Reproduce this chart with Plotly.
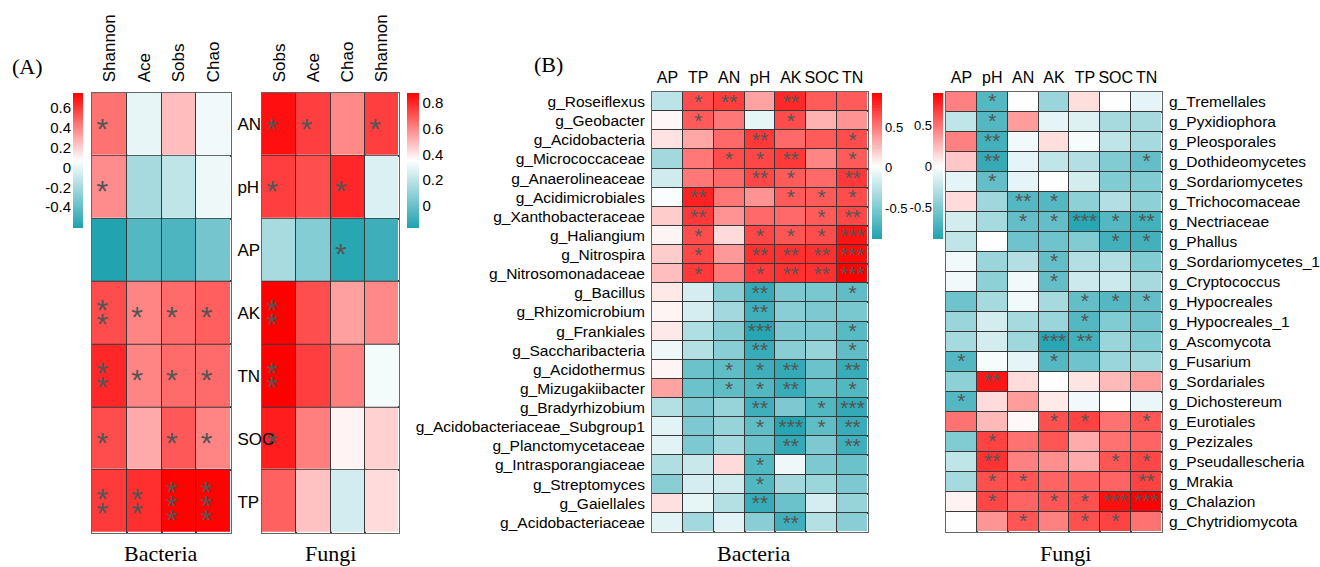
import plotly.graph_objects as go

W, H = 1320, 567

# ---------------- Panel A data ----------------
a_rows = ["AN", "pH", "AP", "AK", "TN", "SOC", "TP"]

a_bact_cols = ["Shannon", "Ace", "Sobs", "Chao"]
a_bact_vals = [
    [0.45, 0.00, 0.25, 0.03],
    [0.38, -0.20, -0.12, 0.02],
    [-0.60, -0.45, -0.47, -0.35],
    [0.55, 0.40, 0.47, 0.50],
    [0.65, 0.40, 0.47, 0.47],
    [0.55, 0.30, 0.52, 0.40],
    [0.60, 0.63, 0.75, 0.75],
]
a_bact_sig = [
    [1, 0, 0, 0],
    [1, 0, 0, 0],
    [0, 0, 0, 0],
    [2, 1, 1, 1],
    [2, 1, 1, 1],
    [1, 0, 1, 1],
    [2, 2, 3, 3],
]

a_fungi_cols = ["Sobs", "Ace", "Chao", "Shannon"]
a_fungi_vals = [
    [0.85, 0.75, 0.60, 0.75],
    [0.75, 0.72, 0.80, 0.27],
    [0.15, 0.07, -0.15, -0.10],
    [0.88, 0.72, 0.55, 0.60],
    [0.88, 0.75, 0.62, 0.33],
    [0.82, 0.62, 0.38, 0.45],
    [0.68, 0.48, 0.25, 0.43],
]
a_fungi_sig = [
    [1, 1, 0, 1],
    [1, 0, 1, 0],
    [0, 0, 1, 0],
    [2, 0, 0, 0],
    [2, 0, 0, 0],
    [1, 0, 0, 0],
    [0, 0, 0, 0],
]

# ---------------- Panel B data ----------------
b_bact_cols = ["AP", "TP", "AN", "pH", "AK", "SOC", "TN"]
b_bact_rows = [
    "g_Roseiflexus", "g_Geobacter", "g_Acidobacteria", "g_Micrococcaceae",
    "g_Anaerolineaceae", "g_Acidimicrobiales", "g_Xanthobacteraceae",
    "g_Haliangium", "g_Nitrospira", "g_Nitrosomonadaceae", "g_Bacillus",
    "g_Rhizomicrobium", "g_Frankiales", "g_Saccharibacteria", "g_Acidothermus",
    "g_Mizugakiibacter", "g_Bradyrhizobium", "g_Acidobacteriaceae_Subgroup1",
    "g_Planctomycetaceae", "g_Intrasporangiaceae", "g_Streptomyces",
    "g_Gaiellales", "g_Acidobacteriaceae",
]
b_bact_vals = [
    [-0.25, 0.65, 0.70, 0.35, 0.78, 0.60, 0.60],
    [0.05, 0.60, 0.50, -0.08, 0.65, 0.30, 0.40],
    [0.12, 0.33, 0.55, 0.72, 0.55, 0.60, 0.65],
    [-0.35, 0.50, 0.65, 0.67, 0.72, 0.45, 0.60],
    [-0.17, 0.50, 0.55, 0.67, 0.60, 0.55, 0.72],
    [0.00, 0.80, 0.50, 0.40, 0.60, 0.60, 0.65],
    [0.20, 0.72, 0.40, 0.55, 0.55, 0.60, 0.67],
    [0.06, 0.65, 0.15, 0.67, 0.62, 0.65, 0.85],
    [0.20, 0.67, 0.38, 0.75, 0.75, 0.75, 0.88],
    [0.25, 0.72, 0.50, 0.72, 0.75, 0.75, 0.92],
    [0.10, -0.15, -0.45, -0.80, -0.50, -0.52, -0.62],
    [0.06, -0.15, -0.35, -0.75, -0.45, -0.50, -0.52],
    [0.10, -0.30, -0.47, -0.85, -0.50, -0.50, -0.65],
    [-0.05, -0.28, -0.45, -0.78, -0.45, -0.40, -0.62],
    [0.06, -0.57, -0.62, -0.75, -0.80, -0.57, -0.78],
    [0.35, -0.57, -0.62, -0.68, -0.78, -0.57, -0.68],
    [-0.28, -0.50, -0.40, -0.75, -0.50, -0.68, -0.80],
    [-0.10, -0.50, -0.40, -0.62, -0.85, -0.62, -0.78],
    [-0.10, -0.50, -0.35, -0.57, -0.80, -0.50, -0.75],
    [-0.30, -0.20, 0.15, -0.68, -0.05, -0.50, -0.57],
    [-0.45, -0.15, -0.17, -0.68, -0.35, -0.38, -0.50],
    [0.13, -0.08, -0.28, -0.78, -0.57, -0.15, -0.40],
    [-0.10, -0.35, -0.10, -0.45, -0.75, -0.28, -0.45],
]
b_bact_sig = [
    [0, 1, 2, 0, 2, 0, 0],
    [0, 1, 0, 0, 1, 0, 0],
    [0, 0, 0, 2, 0, 0, 1],
    [0, 0, 1, 1, 2, 0, 1],
    [0, 0, 0, 2, 1, 0, 2],
    [0, 2, 0, 0, 1, 1, 1],
    [0, 2, 0, 0, 0, 1, 2],
    [0, 1, 0, 1, 1, 1, 3],
    [0, 1, 0, 2, 2, 2, 3],
    [0, 1, 0, 1, 2, 2, 3],
    [0, 0, 0, 2, 0, 0, 1],
    [0, 0, 0, 2, 0, 0, 0],
    [0, 0, 0, 3, 0, 0, 1],
    [0, 0, 0, 2, 0, 0, 1],
    [0, 0, 1, 1, 2, 0, 2],
    [0, 0, 1, 1, 2, 0, 1],
    [0, 0, 0, 2, 0, 1, 3],
    [0, 0, 0, 1, 3, 1, 2],
    [0, 0, 0, 0, 2, 0, 2],
    [0, 0, 0, 1, 0, 0, 0],
    [0, 0, 0, 1, 0, 0, 0],
    [0, 0, 0, 2, 0, 0, 0],
    [0, 0, 0, 0, 2, 0, 0],
]

b_fungi_cols = ["AP", "pH", "AN", "AK", "TP", "SOC", "TN"]
b_fungi_rows = [
    "g_Tremellales", "g_Pyxidiophora", "g_Pleosporales", "g_Dothideomycetes",
    "g_Sordariomycetes", "g_Trichocomaceae", "g_Nectriaceae", "g_Phallus",
    "g_Sordariomycetes_1", "g_Cryptococcus", "g_Hypocreales", "g_Hypocreales_1",
    "g_Ascomycota", "g_Fusarium", "g_Sordariales", "g_Dichostereum",
    "g_Eurotiales", "g_Pezizales", "g_Pseudallescheria", "g_Mrakia",
    "g_Chalazion", "g_Chytridiomycota",
]
b_fungi_vals = [
    [0.45, -0.68, 0.00, -0.40, 0.12, 0.00, -0.10],
    [-0.25, -0.68, 0.35, -0.10, -0.13, -0.35, -0.35],
    [0.45, -0.75, -0.05, 0.12, -0.03, -0.25, -0.35],
    [0.20, -0.80, -0.10, -0.25, -0.30, -0.50, -0.62],
    [-0.10, -0.62, -0.10, 0.00, -0.17, -0.50, -0.50],
    [0.13, -0.38, -0.68, -0.68, -0.45, -0.30, -0.45],
    [-0.17, -0.35, -0.62, -0.62, -0.85, -0.68, -0.75],
    [-0.25, 0.00, -0.57, -0.57, -0.50, -0.75, -0.75],
    [-0.05, -0.40, -0.30, -0.62, -0.30, -0.30, -0.50],
    [-0.05, -0.45, -0.05, -0.62, -0.20, -0.20, -0.35],
    [-0.57, -0.35, -0.05, -0.35, -0.62, -0.68, -0.62],
    [-0.40, -0.17, -0.35, -0.40, -0.68, -0.50, -0.57],
    [-0.35, -0.17, -0.38, -0.85, -0.75, -0.40, -0.50],
    [-0.68, -0.03, -0.10, -0.68, -0.57, -0.40, -0.38],
    [-0.45, 0.82, 0.13, 0.00, 0.10, 0.25, 0.35],
    [-0.68, 0.13, 0.35, 0.08, -0.05, 0.00, -0.08],
    [0.50, 0.25, 0.03, 0.62, 0.67, 0.50, 0.60],
    [-0.50, 0.67, 0.50, 0.60, 0.30, 0.50, 0.55],
    [-0.25, 0.72, 0.45, 0.40, 0.30, 0.60, 0.65],
    [-0.35, 0.62, 0.60, 0.55, 0.55, 0.55, 0.67],
    [0.05, 0.65, 0.55, 0.60, 0.62, 0.85, 0.90],
    [0.00, 0.38, 0.60, 0.45, 0.62, 0.67, 0.50],
]
b_fungi_sig = [
    [0, 1, 0, 0, 0, 0, 0],
    [0, 1, 0, 0, 0, 0, 0],
    [0, 2, 0, 0, 0, 0, 0],
    [0, 2, 0, 0, 0, 0, 1],
    [0, 1, 0, 0, 0, 0, 0],
    [0, 0, 2, 1, 0, 0, 0],
    [0, 0, 1, 1, 3, 1, 2],
    [0, 0, 0, 0, 0, 1, 1],
    [0, 0, 0, 1, 0, 0, 0],
    [0, 0, 0, 1, 0, 0, 0],
    [0, 0, 0, 0, 1, 1, 1],
    [0, 0, 0, 0, 1, 0, 0],
    [0, 0, 0, 3, 2, 0, 0],
    [1, 0, 0, 1, 0, 0, 0],
    [0, 2, 0, 0, 0, 0, 0],
    [1, 0, 0, 0, 0, 0, 0],
    [0, 0, 0, 1, 1, 0, 1],
    [0, 1, 0, 0, 0, 0, 0],
    [0, 2, 0, 0, 0, 1, 1],
    [0, 1, 1, 0, 0, 0, 2],
    [0, 1, 0, 1, 1, 3, 3],
    [0, 0, 1, 0, 1, 1, 0],
]

# colour-bar ranges and ticks
a_bact_range = (-0.61, 0.755)
a_fungi_range = (-0.17, 0.88)
b_bact_range = (-0.88, 0.92)
b_fungi_range = (-0.89, 0.90)
a_bact_ticks = [-0.4, -0.2, 0, 0.2, 0.4, 0.6]
a_bact_ticktext = ["-0.4", "-0.2", "0", "0.2", "0.4", "0.6"]
a_fungi_ticks = [0, 0.2, 0.4, 0.6, 0.8]
a_fungi_ticktext = ["0", "0.2", "0.4", "0.6", "0.8"]
b_ticks = [-0.5, 0, 0.5]
b_ticktext = ["-0.5", "0", "0.5"]

TEAL = "#1fa2af"
CS = [[0, TEAL], [0.5, "#ffffff"], [1, "#ff0000"]]
STAR = "#555555"
GRID = "#383838"
FONT = "Liberation Sans"
SERIF = "Liberation Serif"


def px(x):
    return x / W


def py(y):
    return 1 - y / H


fig = go.Figure()


def add_heat(vals, rng, axn, cbar):
    fig.add_trace(go.Heatmap(
        z=vals, x=list(range(len(vals[0]))), y=list(range(len(vals))),
        colorscale=CS, zmin=rng[0], zmax=rng[1], xgap=1, ygap=1,
        hoverinfo="skip", colorbar=cbar,
        xaxis="x" + axn, yaxis="y" + axn,
    ))


def add_stars_stacked(sig, axn, dx, dy, step, size):
    xs, ys, ts = [], [], []
    for r, row in enumerate(sig):
        for c, n in enumerate(row):
            for k in range(n):
                xs.append(c + dx)
                ys.append(r + dy + (k - (n - 1) / 2) * step)
                ts.append("*")
    fig.add_trace(go.Scatter(
        x=xs, y=ys, text=ts, mode="text", textposition="middle center",
        textfont=dict(family=FONT, size=size, color=STAR),
        hoverinfo="skip", showlegend=False,
        xaxis="x" + axn, yaxis="y" + axn,
    ))


def add_stars_inline(sig, axn, dy, size):
    xs, ys, ts = [], [], []
    for r, row in enumerate(sig):
        for c, n in enumerate(row):
            if n:
                xs.append(c)
                ys.append(r + dy)
                ts.append("*" * n)
    fig.add_trace(go.Scatter(
        x=xs, y=ys, text=ts, mode="text", textposition="middle center",
        textfont=dict(family=FONT, size=size, color=STAR),
        hoverinfo="skip", showlegend=False,
        xaxis="x" + axn, yaxis="y" + axn,
    ))


def cb(x, top, length, thick, show, fsize, ticks=None, ticktext=None):
    d = dict(x=px(x), xanchor="left", y=py(top), yanchor="top",
             len=length, lenmode="pixels", thickness=thick,
             thicknessmode="pixels", xpad=0, ypad=0, outlinewidth=0,
             ticks="", showticklabels=show,
             tickfont=dict(family=FONT, size=fsize, color="black"))
    if ticks is not None:
        d.update(tickvals=ticks, ticktext=ticktext)
    return d


# Panel A heatmaps (fungi on x/y so that bacteria labels on x2/y2 draw above it)
add_heat(a_fungi_vals, a_fungi_range, "",
         cb(407, 92.7, 135, 12, True, 15, a_fungi_ticks, a_fungi_ticktext))
add_stars_stacked(a_fungi_sig, "", -0.2, 0.11, 0.22, 30)
add_heat(a_bact_vals, a_bact_range, "2",
         cb(73, 92.7, 135, 10, False, 15))
add_stars_stacked(a_bact_sig, "2", -0.2, 0.11, 0.22, 30)

# Panel B heatmaps
add_heat(b_bact_vals, b_bact_range, "3",
         cb(872, 93, 146, 10, True, 13, b_ticks, b_ticktext))
add_stars_inline(b_bact_sig, "3", 0.1, 21)
add_heat(b_fungi_vals, b_fungi_range, "4",
         cb(933, 93, 146, 10, False, 13))
add_stars_inline(b_fungi_sig, "4", 0.05, 21)

# helper (empty) traces so the left-side colour-bar label axes are drawn
fig.add_trace(go.Scatter(x=[], y=[], xaxis="x5", yaxis="y5",
                         showlegend=False, hoverinfo="skip"))
fig.add_trace(go.Scatter(x=[], y=[], xaxis="x6", yaxis="y6",
                         showlegend=False, hoverinfo="skip"))

LINE = dict(showline=True, mirror=True, linecolor="#666666", linewidth=1)


def xax(dom, cols, angle, size, anchor, standoff=6):
    n = len(cols)
    return dict(domain=dom, range=[-0.5, n - 0.5], side="top",
                tickmode="array", tickvals=list(range(n)),
                ticktext=cols, tickangle=angle, ticks="",
                tickfont=dict(family=FONT, size=size, color="black"),
                showgrid=False, zeroline=False, anchor=anchor,
                minor=dict(tickmode="array",
                           tickvals=[i + 0.5 for i in range(n - 1)],
                           showgrid=True, gridcolor=GRID, gridwidth=2,
                           ticks=""),
                ticklabelstandoff=standoff, **LINE)


def yax(dom, rows, side, show, size, anchor, standoff=2):
    n = len(rows)
    return dict(domain=dom, range=[n - 0.5, -0.5], side=side,
                tickmode="array", tickvals=list(range(n)),
                ticktext=rows, ticks="", showticklabels=show,
                tickfont=dict(family=FONT, size=size, color="black"),
                showgrid=False, zeroline=False, anchor=anchor,
                minor=dict(tickmode="array",
                           tickvals=[i + 0.5 for i in range(n - 1)],
                           showgrid=True, gridcolor=GRID, gridwidth=2,
                           ticks=""),
                ticklabelstandoff=standoff, **LINE)


A_Y = [py(533), py(92.7)]
B_Y = [py(532), py(92)]
A_BACT_X = [px(92), px(231)]
B_FUNGI_X = [px(946), px(1162)]

fig.update_layout(
    width=W, height=H, autosize=False,
    margin=dict(l=0, r=0, t=0, b=0),
    paper_bgcolor="white", plot_bgcolor="rgba(0,0,0,0)",
    showlegend=False,
    font=dict(family=FONT, color="black"),
    xaxis=xax([px(262), px(399)], a_fungi_cols, -90, 17, "y"),
    yaxis=yax(A_Y, a_rows, "left", False, 17, "x"),
    xaxis2=xax(A_BACT_X, a_bact_cols, -90, 17, "y2"),
    yaxis2=yax(A_Y, a_rows, "right", True, 17, "x2", 2),
    xaxis3=xax([px(652), px(868)], b_bact_cols, 0, 16, "y3", 2),
    yaxis3=yax(B_Y, b_bact_rows, "left", True, 15.5, "x3", 3),
    xaxis4=xax(B_FUNGI_X, b_fungi_cols, 0, 16, "y4", 2),
    yaxis4=yax(B_Y, b_fungi_rows, "right", True, 15.5, "x4", 3),
    # label axes for the colour bars whose labels sit on their left side
    xaxis5=dict(domain=A_BACT_X, visible=False, range=[0, 1], anchor="y5",
                showgrid=False),
    yaxis5=dict(domain=[py(228), py(92.7)], range=list(a_bact_range),
                side="left", anchor="free", position=px(73),
                tickmode="array",
                tickvals=a_bact_ticks, ticktext=a_bact_ticktext, ticks="",
                showgrid=False, zeroline=False, showline=False,
                ticklabelstandoff=2,
                tickfont=dict(family=FONT, size=15, color="black")),
    xaxis6=dict(domain=B_FUNGI_X, visible=False, range=[0, 1], anchor="y6",
                showgrid=False),
    yaxis6=dict(domain=[py(239), py(93)], range=list(b_fungi_range),
                side="left", anchor="free", position=px(933),
                tickmode="array",
                tickvals=b_ticks, ticktext=b_ticktext, ticks="",
                showgrid=False, zeroline=False, showline=False,
                ticklabelstandoff=1,
                tickfont=dict(family=FONT, size=13, color="black")),
)

ann = [
    ("(A)", 27, 66, 22),
    ("(B)", 548, 64, 22),
    ("Bacteria", 161, 553, 22),
    ("Fungi", 330, 553, 22),
    ("Bacteria", 754, 553, 22),
    ("Fungi", 1065, 553, 22),
]
for t, x, y, s in ann:
    fig.add_annotation(text=t, x=px(x), y=py(y), xref="paper", yref="paper",
                       xanchor="center", yanchor="middle", showarrow=False,
                       font=dict(family=SERIF, size=s, color="black"))

fig.write_html("out.html")
